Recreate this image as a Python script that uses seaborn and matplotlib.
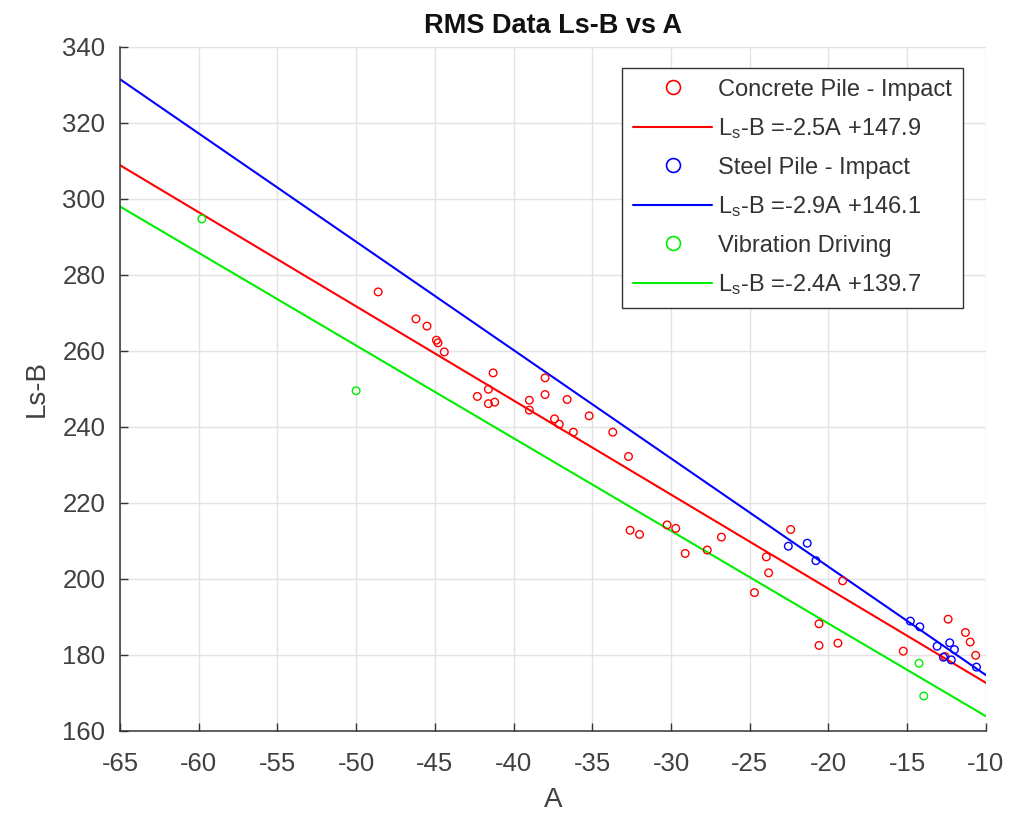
import numpy as np
import pandas as pd
import matplotlib
matplotlib.use("Agg")
import matplotlib.pyplot as plt
from matplotlib.lines import Line2D
import seaborn as sns

# ---- data ----
concrete_A = [-48.6, -46.2, -45.5, -44.9, -44.8, -44.4, -41.3, -41.6, -42.3, -41.6,
              -41.2, -38.0, -38.0, -39.0, -39.0, -36.6, -37.4, -37.1, -36.2, -35.2,
              -33.7, -32.7, -32.6, -32.0, -30.25, -29.7, -29.1, -27.7, -26.8, -22.4,
              -23.95, -23.8, -24.7, -19.1, -20.6, -20.6, -19.4, -12.4, -11.3, -11.0,
              -10.65, -15.25, -12.6]
concrete_Y = [275.5, 268.4, 266.5, 262.8, 262.1, 259.7, 254.2, 249.9, 248.0, 246.1,
              246.5, 252.9, 248.5, 247.0, 244.4, 247.2, 242.1, 240.7, 238.6, 242.9,
              238.6, 232.2, 212.8, 211.7, 214.2, 213.3, 206.7, 207.6, 211.0, 213.0,
              205.8, 201.6, 196.4, 199.5, 188.2, 182.5, 183.1, 189.4, 185.9, 183.4,
              179.9, 181.0, 179.6]
steel_A = [-22.55, -21.35, -20.8, -14.8, -14.2, -13.1, -12.3, -12.0, -12.7, -12.2, -10.6]
steel_Y = [208.6, 209.4, 204.8, 188.9, 187.4, 182.3, 183.2, 181.4, 179.4, 178.7, 176.8]
vib_A = [-59.8, -50.0, -14.25, -13.95]
vib_Y = [294.7, 249.5, 177.8, 169.2]

groups = ["Concrete Pile - Impact", "Steel Pile - Impact", "Vibration Driving"]
fit_slopes = [-2.476, -2.85, -2.438]
fit_intercepts = [147.9, 146.2, 139.5]
fit_labels = [r"$\mathregular{L_s}$-B =-2.5A +147.9",
              r"$\mathregular{L_s}$-B =-2.9A +146.1",
              r"$\mathregular{L_s}$-B =-2.4A +139.7"]
colors = ["#ff0000", "#0000ff", "#00ee00"]
x_ticks = list(range(-65, -9, 5))
y_ticks = list(range(160, 341, 20))

# ---- styling ----
sns.set_theme(style="ticks")
plt.rcParams["font.family"] = ["Liberation Sans", "DejaVu Sans"]
plt.rcParams["mathtext.fontset"] = "custom"
plt.rcParams["mathtext.rm"] = "Liberation Sans"
plt.rcParams["axes.unicode_minus"] = False

fig = plt.figure(figsize=(10.27, 8.14), dpi=100)
ax = fig.add_axes([0.1168, 0.102, 0.8432, 0.8406])

points = pd.DataFrame({
    "A": concrete_A + steel_A + vib_A,
    "Y": concrete_Y + steel_Y + vib_Y,
    "group": [groups[0]] * len(concrete_A) + [groups[1]] * len(steel_A) + [groups[2]] * len(vib_A),
})

xs = np.array([x_ticks[0], x_ticks[-1]], dtype=float)
handles = []
labels = []
for g, m, b, fl, c in zip(groups, fit_slopes, fit_intercepts, fit_labels, colors):
    sub = points[points["group"] == g]
    ax.scatter(sub["A"], sub["Y"], s=30, facecolors="none", edgecolors=c,
               linewidths=1.0, zorder=3)
    line_df = pd.DataFrame({"A": xs, "Y": m * xs + b})
    sns.lineplot(data=line_df, x="A", y="Y", color=c, linewidth=1.5, ax=ax,
                 legend=False, zorder=2)
    handles.append(Line2D([], [], marker="o", ls="none", mfc="none", mec=c,
                          ms=10, mew=1.2))
    labels.append(g)
    handles.append(Line2D([], [], color=c, lw=1.5))
    labels.append(fl)

ax.set_xlim(-65, -10)
ax.set_ylim(160, 340)
ax.set_xticks(x_ticks)
ax.set_yticks(y_ticks)
ax.grid(True, color="#e3e3e3", linewidth=1.0)
ax.set_axisbelow(True)
for s in ["top", "right"]:
    ax.spines[s].set_visible(False)
for s in ["left", "bottom"]:
    ax.spines[s].set_color("#333333")
    ax.spines[s].set_linewidth(1.1)
ax.tick_params(direction="in", length=6, width=1.0, colors="#333333",
               labelsize=18.5, labelcolor="#404040")
ax.tick_params(axis="x", pad=15)
ax.tick_params(axis="y", pad=10.5)

ax.set_xlabel("A", fontsize=20, color="#404040", labelpad=8)
ax.set_ylabel("Ls-B", fontsize=20, color="#404040", labelpad=9)
ax.set_title("RMS Data Ls-B vs A", fontsize=19.5, fontweight="bold", color="#111111", pad=10)

leg = ax.legend(handles, labels, loc="upper right", bbox_to_anchor=(0.973, 0.969),
                fontsize=17, frameon=True, fancybox=False, edgecolor="#333333",
                framealpha=1, labelspacing=0.66, handlelength=3.35, handletextpad=0.25,
                borderpad=0.45, borderaxespad=0)
leg.get_frame().set_linewidth(1.0)
for t in leg.get_texts():
    t.set_color("#333333")

fig.savefig("out.png", dpi=100)
